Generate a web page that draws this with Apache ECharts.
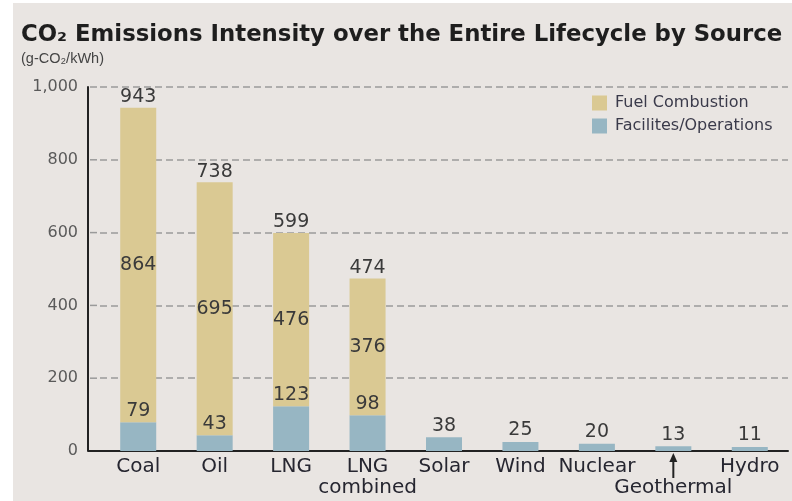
<!DOCTYPE html>
<html>
<head>
<meta charset="utf-8">
<script src="https://cdn.jsdelivr.net/npm/echarts@6/dist/echarts.min.js"></script>
<style>
  html, body { margin: 0; padding: 0; background: #ffffff; }
  #chart { width: 792px; height: 501px; }
</style>
</head>
<body>
<div id="chart"></div>
<script>
// data
const sources = ['Coal', 'Oil', 'LNG', 'LNG\ncombined', 'Solar', 'Wind', 'Nuclear', '\nGeothermal', 'Hydro']
const fuelCombustion = [864, 695, 476, 376, 0, 0, 0, 0, 0]
const facilities = [79, 43, 123, 98, 38, 25, 20, 13, 11]
const totals = [943, 738, 599, 474, 38, 25, 20, 13, 11]
const yTicks = [0, 200, 400, 600, 800, 1000]

const tan = '#dac993'
const blue = '#97b6c3'
const textFont = 'DejaVu Sans'

const chart = echarts.init(document.getElementById('chart'))

const option = {
  animation: false,
  backgroundColor: '#ffffff',
  graphic: [{
    type: 'rect',
    z: -10,
    shape: { x: 13, y: 3, width: 792, height: 510 },
    style: { fill: '#e9e5e2' }
  }],
  title: [{
    text: 'CO₂ Emissions Intensity over the Entire Lifecycle by Source',
    left: 21,
    top: 24,
    padding: 0,
    textStyle: { fontFamily: textFont, fontWeight: 'bold', fontSize: 22.8, color: '#1e1e1e' }
  }, {
    text: '(g-CO₂/kWh)',
    left: 21,
    top: 51,
    padding: 0,
    textStyle: { fontFamily: 'Liberation Sans', fontWeight: 'normal', fontSize: 14.5, color: '#444' }
  }],
  legend: {
    data: ['Fuel Combustion', 'Facilites/Operations'],
    orient: 'vertical',
    left: 592,
    top: 95,
    padding: 0,
    icon: 'rect',
    itemWidth: 15,
    itemHeight: 15,
    itemGap: 7,
    textStyle: { fontFamily: textFont, fontSize: 16, color: '#3a3a4a', padding: [0, 0, 0, 3] }
  },
  grid: { left: 100, right: 4, top: 87, bottom: 50 },
  xAxis: {
    type: 'category',
    data: sources,
    axisLine: { lineStyle: { color: '#222', width: 2 } },
    axisTick: { show: false },
    axisLabel: {
      interval: 0,
      margin: 5,
      fontFamily: textFont,
      fontSize: 20,
      lineHeight: 21,
      color: '#262630'
    }
  },
  yAxis: {
    type: 'value',
    min: 0,
    max: 1000,
    interval: 200,
    offset: 12,
    axisLine: { show: true, lineStyle: { color: '#222', width: 2 } },
    axisTick: { show: false },
    axisLabel: {
      margin: 10,
      fontFamily: textFont,
      fontSize: 16,
      color: '#5a5a5a',
      formatter: v => v.toLocaleString('en-US')
    },
    splitLine: { lineStyle: { color: '#9a9a9a', width: 1.5, type: [7, 4] } }
  },
  series: [{
    name: 'Facilites/Operations',
    type: 'bar',
    stack: 'total',
    barWidth: 36,
    data: facilities,
    itemStyle: { color: blue },
    label: {
      show: true,
      position: 'top',
      distance: 2,
      fontFamily: textFont,
      fontSize: 19,
      color: '#3a3a3a'
    }
  }, {
    name: 'Fuel Combustion',
    type: 'bar',
    stack: 'total',
    barWidth: 36,
    data: fuelCombustion,
    itemStyle: { color: tan },
    label: {
      show: true,
      position: 'inside',
      fontFamily: textFont,
      fontSize: 19,
      color: '#3a3a3a',
      formatter: p => (p.value > 0 ? p.value : '')
    }
  }, {
    name: 'Total',
    type: 'bar',
    stack: 'total',
    barWidth: 36,
    data: sources.map(() => 0),
    itemStyle: { color: 'transparent' },
    label: {
      show: true,
      position: 'top',
      distance: 1,
      fontFamily: textFont,
      fontSize: 19,
      color: '#3a3a3a',
      formatter: p => (fuelCombustion[p.dataIndex] > 0 ? totals[p.dataIndex] : '')
    }
  }]
}

chart.setOption(option)

// bits the axes can't draw: corner of the baseline, left end of the grid lines, geothermal arrow
const extra = []
yTicks.forEach(t => {
  const y = chart.convertToPixel({ yAxisIndex: 0 }, t)
  if (t === 0) {
    extra.push({ type: 'line', shape: { x1: 88, y1: y, x2: 101, y2: y }, style: { stroke: '#222', lineWidth: 2 } })
  } else {
    extra.push({ type: 'line', shape: { x1: 90, y1: y, x2: 100, y2: y }, style: { stroke: '#9a9a9a', lineWidth: 1.5, lineDash: [7, 4] } })
  }
})
const geo = chart.convertToPixel({ xAxisIndex: 0, yAxisIndex: 0 }, [7, 0])
extra.push({ type: 'line', shape: { x1: geo[0], y1: geo[1] + 6, x2: geo[0], y2: geo[1] + 27 }, style: { stroke: '#222', lineWidth: 2 } })
extra.push({ type: 'polygon', shape: { points: [[geo[0] - 4, geo[1] + 11], [geo[0] + 4, geo[1] + 11], [geo[0], geo[1] + 2]] }, style: { fill: '#222' } })

chart.setOption({ graphic: option.graphic.concat(extra) })
</script>
</body>
</html>
